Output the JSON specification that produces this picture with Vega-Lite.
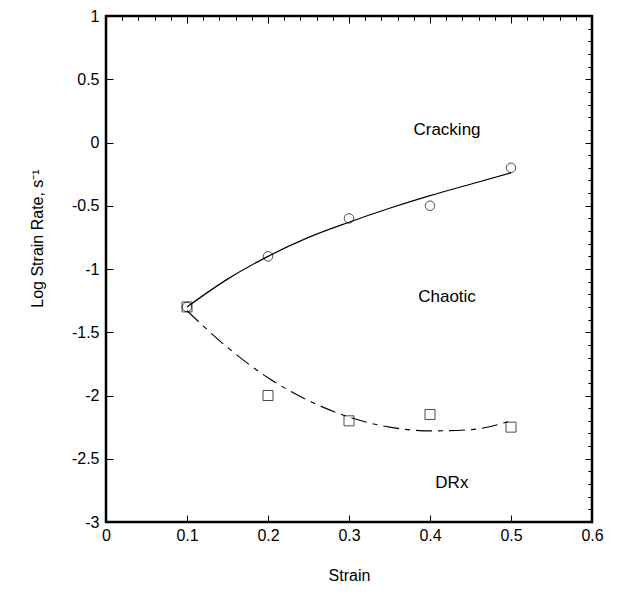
{
  "$schema": "https://vega.github.io/schema/vega-lite/v6.json",
  "width": 486,
  "height": 506,
  "autosize": {"type": "none"},
  "padding": {"left": 106, "top": 16, "right": 47, "bottom": 83},
  "background": "white",
  "config": {
    "view": {"stroke": "black", "strokeWidth": 2.5},
    "font": "Liberation Sans",
    "axis": {"labelFont": "Liberation Sans", "titleFont": "Liberation Sans", "labelFontSize": 16, "titleFontSize": 16, "titleFontWeight": "normal", "labelColor": "black", "titleColor": "black", "tickColor": "black", "grid": false, "domain": false}
  },
  "datasets": {
    "fit": [
      {"strain": 0.1, "rate": -1.3, "curve": "upper"},
      {"strain": 0.15, "rate": -1.08, "curve": "upper"},
      {"strain": 0.2, "rate": -0.9, "curve": "upper"},
      {"strain": 0.25, "rate": -0.75, "curve": "upper"},
      {"strain": 0.3, "rate": -0.63, "curve": "upper"},
      {"strain": 0.35, "rate": -0.52, "curve": "upper"},
      {"strain": 0.4, "rate": -0.42, "curve": "upper"},
      {"strain": 0.45, "rate": -0.33, "curve": "upper"},
      {"strain": 0.5, "rate": -0.24, "curve": "upper"},
      {"strain": 0.1, "rate": -1.33, "curve": "lower"},
      {"strain": 0.15, "rate": -1.62, "curve": "lower"},
      {"strain": 0.2, "rate": -1.86, "curve": "lower"},
      {"strain": 0.25, "rate": -2.04, "curve": "lower"},
      {"strain": 0.3, "rate": -2.17, "curve": "lower"},
      {"strain": 0.35, "rate": -2.25, "curve": "lower"},
      {"strain": 0.4, "rate": -2.28, "curve": "lower"},
      {"strain": 0.45, "rate": -2.27, "curve": "lower"},
      {"strain": 0.5, "rate": -2.2, "curve": "lower"}
    ],
    "obs": [
      {"strain": 0.1, "rate": -1.3, "type": "circle"},
      {"strain": 0.2, "rate": -0.9, "type": "circle"},
      {"strain": 0.3, "rate": -0.6, "type": "circle"},
      {"strain": 0.4, "rate": -0.5, "type": "circle"},
      {"strain": 0.5, "rate": -0.2, "type": "circle"},
      {"strain": 0.1, "rate": -1.3, "type": "square"},
      {"strain": 0.2, "rate": -2.0, "type": "square"},
      {"strain": 0.3, "rate": -2.2, "type": "square"},
      {"strain": 0.4, "rate": -2.15, "type": "square"},
      {"strain": 0.5, "rate": -2.25, "type": "square"}
    ],
    "labels": [
      {"strain": 0.421, "rate": 0.1, "text": "Cracking"},
      {"strain": 0.421, "rate": -1.22, "text": "Chaotic"},
      {"strain": 0.427, "rate": -2.69, "text": "DRx"}
    ]
  },
  "layer": [
    {
      "data": {"name": "fit"},
      "transform": [{"filter": "datum.curve == 'upper'"}],
      "mark": {"type": "line", "color": "black", "strokeWidth": 1.2, "interpolate": "monotone"},
      "encoding": {
        "x": {"field": "strain", "type": "quantitative", "scale": {"domain": [0, 0.6], "nice": false, "zero": false},
          "axis": {"title": "Strain", "values": [0, 0.1, 0.2, 0.3, 0.4, 0.5, 0.6], "labelExpr": "'' + datum.value", "tickSize": -7, "tickWidth": 1, "labelPadding": 12, "titlePadding": 24, "labelFlush": false, "labelFontSize": 16, "titleFontSize": 16}},
        "y": {"field": "rate", "type": "quantitative", "scale": {"domain": [-3, 1], "nice": false, "zero": false},
          "axis": {"title": "Log Strain Rate, s⁻¹", "values": [-3, -2.5, -2, -1.5, -1, -0.5, 0, 0.5, 1], "labelExpr": "'' + datum.value", "tickSize": -7, "tickWidth": 1, "labelPadding": 14, "titlePadding": 26, "titleY": 222, "labelFlush": false, "labelFontSize": 16, "titleFontSize": 16}}
      }
    },
    {
      "data": {"name": "fit"},
      "transform": [{"filter": "datum.curve == 'lower'"}],
      "mark": {"type": "line", "color": "black", "strokeWidth": 1.1, "interpolate": "monotone", "strokeDash": [16, 6, 5, 6]},
      "encoding": {
        "x": {"field": "strain", "type": "quantitative",
          "axis": {"title": null, "labels": false, "values": [0.02, 0.04, 0.06, 0.08, 0.12, 0.14, 0.16, 0.18, 0.22, 0.24, 0.26, 0.28, 0.32, 0.34, 0.36, 0.38, 0.42, 0.44, 0.46, 0.48, 0.52, 0.54, 0.56, 0.58], "tickSize": -4, "tickWidth": 1}},
        "y": {"field": "rate", "type": "quantitative",
          "axis": {"title": null, "labels": false, "values": [-2.9, -2.8, -2.7, -2.6, -2.4, -2.3, -2.2, -2.1, -1.9, -1.8, -1.7, -1.6, -1.4, -1.3, -1.2, -1.1, -0.9, -0.8, -0.7, -0.6, -0.4, -0.3, -0.2, -0.1, 0.1, 0.2, 0.3, 0.4, 0.6, 0.7, 0.8, 0.9], "tickSize": -4, "tickWidth": 1}}
      }
    },
    {
      "data": {"name": "obs"},
      "transform": [{"filter": "datum.type == 'circle'"}],
      "mark": {"type": "point", "shape": "circle", "filled": false, "color": "black", "strokeWidth": 1, "size": 90},
      "encoding": {
        "x": {"field": "strain", "type": "quantitative",
          "axis": {"orient": "top", "title": null, "labels": false, "values": [0, 0.1, 0.2, 0.3, 0.4, 0.5, 0.6], "tickSize": -7, "tickWidth": 1}},
        "y": {"field": "rate", "type": "quantitative",
          "axis": {"orient": "right", "title": null, "labels": false, "values": [-3, -2.5, -2, -1.5, -1, -0.5, 0, 0.5, 1], "tickSize": -7, "tickWidth": 1}}
      }
    },
    {
      "data": {"name": "obs"},
      "transform": [{"filter": "datum.type == 'square'"}],
      "mark": {"type": "point", "shape": "square", "filled": false, "color": "black", "strokeWidth": 1, "size": 100},
      "encoding": {
        "x": {"field": "strain", "type": "quantitative",
          "axis": {"orient": "top", "title": null, "labels": false, "values": [0.02, 0.04, 0.06, 0.08, 0.12, 0.14, 0.16, 0.18, 0.22, 0.24, 0.26, 0.28, 0.32, 0.34, 0.36, 0.38, 0.42, 0.44, 0.46, 0.48, 0.52, 0.54, 0.56, 0.58], "tickSize": -4, "tickWidth": 1}},
        "y": {"field": "rate", "type": "quantitative",
          "axis": {"orient": "right", "title": null, "labels": false, "values": [-2.9, -2.8, -2.7, -2.6, -2.4, -2.3, -2.2, -2.1, -1.9, -1.8, -1.7, -1.6, -1.4, -1.3, -1.2, -1.1, -0.9, -0.8, -0.7, -0.6, -0.4, -0.3, -0.2, -0.1, 0.1, 0.2, 0.3, 0.4, 0.6, 0.7, 0.8, 0.9], "tickSize": -4, "tickWidth": 1}}
      }
    },
    {
      "data": {"name": "labels"},
      "mark": {"type": "text", "font": "Liberation Sans", "fontSize": 17, "color": "black", "align": "center", "baseline": "middle"},
      "encoding": {
        "x": {"field": "strain", "type": "quantitative", "axis": null},
        "y": {"field": "rate", "type": "quantitative", "axis": null},
        "text": {"field": "text"}
      }
    }
  ],
  "resolve": {"axis": {"x": "independent", "y": "independent"}}
}
